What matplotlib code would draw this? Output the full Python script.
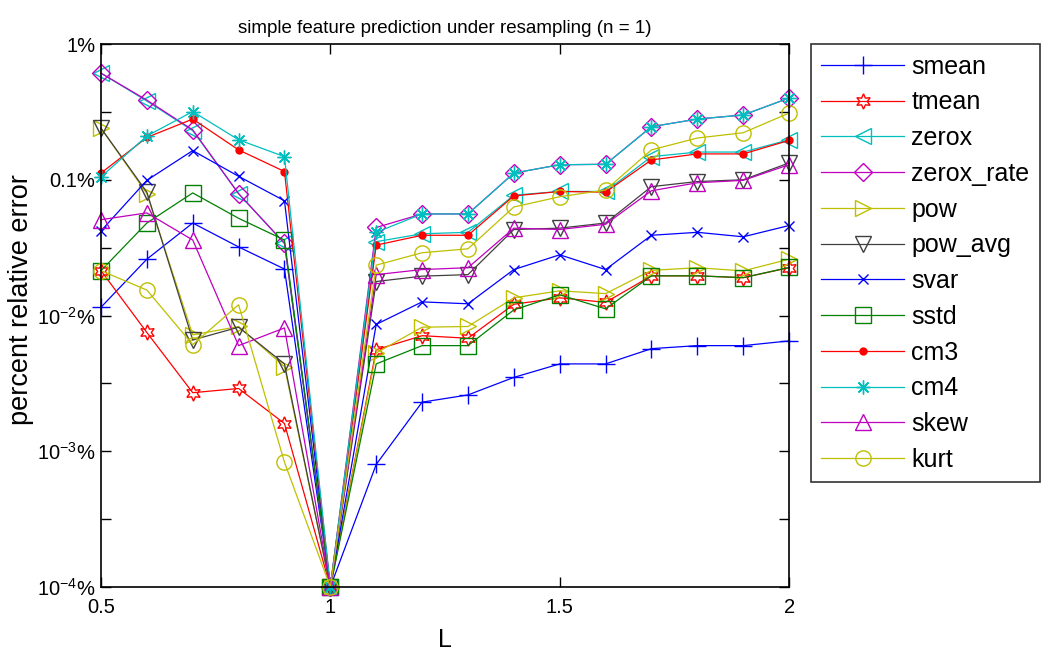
import numpy as np
import matplotlib
matplotlib.use('Agg')
import matplotlib.pyplot as plt
from matplotlib.ticker import FixedLocator, NullFormatter

plt.rcParams['font.family'] = ['Liberation Sans', 'DejaVu Sans']
plt.rcParams['mathtext.default'] = 'regular'

# resampling factor
L = [0.5, 0.6, 0.7, 0.8, 0.9, 1.0, 1.1, 1.2, 1.3, 1.4, 1.5, 1.6, 1.7, 1.8, 1.9, 2.0]

# percent relative error per feature (L = 1 sits on the bottom of the axis)
smean = [0.0115, 0.026, 0.048, 0.032, 0.022, 1e-4, 0.0008, 0.0023, 0.0026, 0.0035, 0.0044, 0.0044, 0.0057, 0.006, 0.006, 0.0065]
tmean = [0.0214, 0.0075, 0.0027, 0.0029, 0.0016, 1e-4, 0.0056, 0.0071, 0.0068, 0.0121, 0.0135, 0.0125, 0.0196, 0.0196, 0.019, 0.0225]
zerox = [0.61, 0.38, 0.23, 0.079, 0.034, 1e-4, 0.035, 0.040, 0.041, 0.077, 0.082, 0.082, 0.148, 0.16, 0.16, 0.197]
zerox_rate = [0.61, 0.386, 0.233, 0.079, 0.034, 1e-4, 0.0445, 0.056, 0.056, 0.112, 0.129, 0.13, 0.246, 0.28, 0.30, 0.40]
pow_ = [0.24, 0.079, 0.0072, 0.0083, 0.0042, 1e-4, 0.0053, 0.0082, 0.0083, 0.0135, 0.0152, 0.0145, 0.0215, 0.0225, 0.0213, 0.026]
pow_avg = [0.24, 0.081, 0.0066, 0.0082, 0.0044, 1e-4, 0.0178, 0.0195, 0.020, 0.043, 0.044, 0.048, 0.089, 0.097, 0.10, 0.133]
svar = [0.042, 0.099, 0.164, 0.106, 0.070, 1e-4, 0.0086, 0.0126, 0.0122, 0.0218, 0.028, 0.0218, 0.039, 0.041, 0.038, 0.046]
sstd = [0.0214, 0.048, 0.080, 0.052, 0.036, 1e-4, 0.0044, 0.0060, 0.0060, 0.011, 0.0142, 0.0112, 0.0196, 0.0196, 0.019, 0.0226]
cm3 = [0.112, 0.205, 0.28, 0.166, 0.115, 1e-4, 0.033, 0.039, 0.039, 0.076, 0.082, 0.081, 0.140, 0.155, 0.155, 0.195]
cm4 = [0.105, 0.21, 0.318, 0.197, 0.148, 1e-4, 0.041, 0.056, 0.056, 0.112, 0.129, 0.13, 0.246, 0.28, 0.30, 0.40]
skew = [0.0508, 0.057, 0.036, 0.006, 0.0081, 1e-4, 0.020, 0.0218, 0.0225, 0.044, 0.043, 0.047, 0.083, 0.095, 0.099, 0.129]
kurt = [0.0214, 0.0154, 0.0061, 0.012, 0.00083, 1e-4, 0.0235, 0.029, 0.031, 0.063, 0.075, 0.084, 0.166, 0.203, 0.222, 0.31]

names = ['smean', 'tmean', 'zerox', 'zerox_rate', 'pow', 'pow_avg',
         'svar', 'sstd', 'cm3', 'cm4', 'skew', 'kurt']
series = [smean, tmean, zerox, zerox_rate, pow_, pow_avg,
          svar, sstd, cm3, cm4, skew, kurt]

# matlab default line colours
colors = ['#0000ff', '#ff0000', '#00bfbf', '#bf00bf', '#bfbf00', '#404040',
          '#0000ff', '#008000', '#ff0000', '#00bfbf', '#bf00bf', '#bfbf00']
markers = ['+', (6, 1, 0), '<', 'D', '>', 'v', 'x', 's', 'o', (8, 2, 0), '^', 'o']
sizes = [13, 11, 12, 9.5, 12, 11, 7, 11, 6, 10, 12, 11]

fig = plt.figure(figsize=(10.41, 6.51), dpi=100)
ax = fig.add_axes([0.097, 0.0983, 0.661, 0.8341])

for name, y, c, m, s in zip(names, series, colors, markers, sizes):
    face = c if name == 'cm3' else 'none'
    ax.plot(L, y, color=c, marker=m, markersize=s, markerfacecolor=face,
            markeredgecolor=c, markeredgewidth=1.0 if name != 'cm3' else 0,
            linewidth=0.9, label=name, clip_on=False)

ax.set_yscale('log')
ax.set_xlim(0.5, 2)
ax.set_ylim(1e-4, 1)
ax.set_xticks([0.5, 1, 1.5, 2])
ax.set_xticklabels(['0.5', '1', '1.5', '2'])
ax.yaxis.set_major_locator(FixedLocator([1e-4, 1e-3, 1e-2, 1e-1, 1]))
ax.set_yticklabels([r'$10^{-4}$%', r'$10^{-3}$%', r'$10^{-2}$%', '0.1%', '1%'])
ax.yaxis.set_minor_locator(FixedLocator(10.0 ** np.array([-3.5, -2.5, -1.5, -0.5])))
ax.yaxis.set_minor_formatter(NullFormatter())
ax.tick_params(which='both', direction='in', top=True, right=True,
               length=7, width=1, labelsize=14.5, pad=4)
ax.tick_params(axis='x', pad=8)
for sp in ax.spines.values():
    sp.set_linewidth(1.2)

ax.set_title('simple feature prediction under resampling (n = 1)', fontsize=13.5, pad=8)
ax.set_xlabel('L', fontsize=18, labelpad=8)
ax.set_ylabel('percent relative error', fontsize=19.5)
ax.yaxis.set_label_coords(-0.098, 0.53)

leg = ax.legend(loc='upper left', bbox_to_anchor=(0.779, 0.9324),
                bbox_transform=fig.transFigure, fontsize=18, frameon=True,
                fancybox=False, handlelength=3.3, labelspacing=0.47,
                borderpad=0.42, handletextpad=0.3, borderaxespad=0)
leg.get_frame().set_edgecolor('black')
leg.get_frame().set_linewidth(1.2)

fig.savefig('out.png', dpi=100)
